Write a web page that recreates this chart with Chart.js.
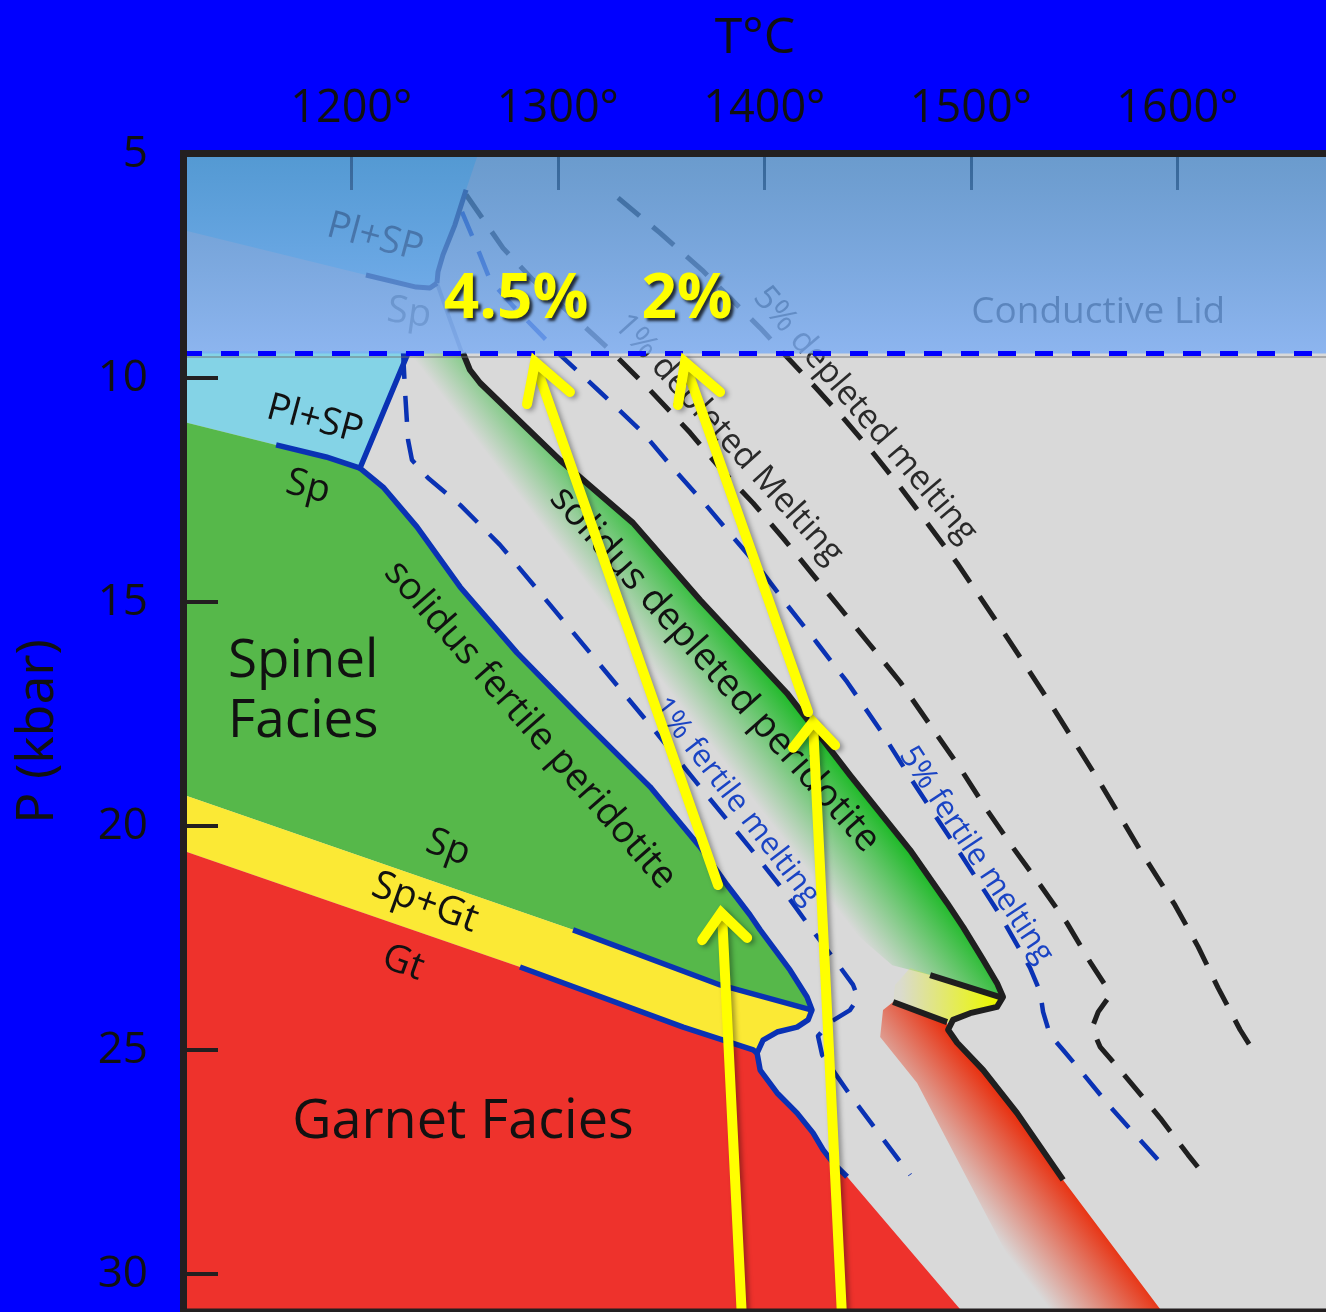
<!DOCTYPE html>
<html>
<head>
<meta charset="utf-8">
<script src="https://cdn.jsdelivr.net/npm/chart.js@4.4.1/dist/chart.umd.min.js"></script>
<style>
  html, body { margin: 0; padding: 0; background: #0000ff; overflow: hidden; }
  canvas { display: block; }
</style>
</head>
<body>
<canvas id="pt" width="1326" height="1312"></canvas>
<script>
// ---- axes (temperature in °C, pressure in kbar) ----
const tempTicks = [1200, 1300, 1400, 1500, 1600];
const pressureTicks = [5, 10, 15, 20, 25, 30];
const tempRange = [1119, 1672];
const pressureRange = [5, 30.77];
const lidBase = 9.45;

// ---- phase boundaries, [T, P] ----
const fertileSolidus = [
  [1227.5, 9.44], [1204.2, 12.01], [1215.4, 12.43], [1231.8, 13.32], [1252.7, 14.66],
  [1280.3, 16.13], [1312.2, 17.63], [1344.7, 19.12], [1368.9, 20.46], [1382.0, 21.31],
  [1393.1, 21.98], [1398.0, 22.31], [1412.5, 23.21], [1420.7, 23.81], [1423.1, 24.10],
  [1421.2, 24.32], [1415.9, 24.48], [1406.2, 24.59], [1399.4, 24.77], [1396.5, 25.06],
  [1398.0, 25.44], [1406.2, 25.95], [1415.9, 26.40], [1423.6, 26.84], [1428.5, 27.22],
  [1433.3, 27.51], [1440.1, 27.82]
];
const plSpBoundary = [[1119, 10.98], [1163.6, 11.49], [1187.8, 11.76], [1204.2, 12.01]];
const spToSpGt = [[1119, 19.30], [1307.4, 22.31], [1378.6, 23.54], [1423.1, 24.10]];
const spGtToGt = [[1119, 20.55], [1281.7, 23.14], [1360.7, 24.48], [1394.6, 24.99], [1396.5, 25.06]];
const garnetBase = [[1499.0, 31.0], [1119, 31.0]];

const depletedSolidus = [
  [1254.1, 9.44], [1257.5, 9.82], [1262.4, 10.11], [1301.1, 11.83], [1336.4, 13.23],
  [1368.9, 14.95], [1411.0, 17.03], [1441.5, 18.86], [1470.6, 20.53], [1488.5, 21.71],
  [1496.3, 22.25], [1506.0, 22.98], [1512.7, 23.50], [1515.6, 23.81], [1512.7, 24.03],
  [1499.7, 24.17], [1491.4, 24.32], [1489.0, 24.54], [1493.4, 24.83], [1506.0, 25.44],
  [1522.4, 26.40], [1544.7, 27.89]
];
const depletedSpGt = [[1480.3, 23.32], [1514.2, 23.81]];
const depletedGt = [[1462.4, 23.92], [1488.5, 24.37]];

// shaded bands beside the depleted solidus
const depletedSpinelBand = [
  ...depletedSolidus.slice(0, 14),
  [1480.3, 23.32], [1462.0, 23.10], [1368.9, 19.41], [1281.7, 14.95], [1233.3, 11.83], [1226.0, 9.44]
];
const depletedSpGtBand = [
  [1470.6, 23.16], [1480.3, 23.32], [1514.2, 23.81], [1515.6, 23.85], [1512.7, 24.03],
  [1499.7, 24.17], [1491.4, 24.32], [1488.5, 24.37], [1462.4, 23.92], [1463.3, 23.54]
];
const depletedGarnetBand = [
  [1462.4, 23.92], [1488.5, 24.37], [1489.0, 24.54], [1493.4, 24.83], [1506.0, 25.44],
  [1522.4, 26.40], [1544.7, 27.89], [1595.4, 31.0], [1534.0, 31.0], [1474.0, 25.73],
  [1456.1, 24.70], [1457.5, 24.10]
];

// isopleths of melting
const fertileMelt1 = [
  [1225.1, 9.44], [1226.0, 10.27], [1227.5, 11.38], [1229.4, 11.83], [1237.2, 12.23],
  [1252.7, 12.83], [1272.0, 13.72], [1296.3, 15.06], [1320.5, 16.40], [1344.7, 17.74],
  [1368.9, 19.12], [1393.1, 20.48], [1409.1, 21.42], [1420.7, 22.16], [1435.2, 23.05],
  [1443.0, 23.54], [1445.4, 23.83], [1441.5, 24.10], [1431.9, 24.37], [1426.0, 24.68],
  [1428.0, 25.10], [1441.5, 25.99], [1456.1, 26.89], [1470.6, 27.78]
];
const fertileMelt5 = [
  [1253.6, 6.29], [1261.4, 7.14], [1267.2, 7.81], [1279.3, 8.44], [1292.9, 9.08],
  [1301.1, 9.48], [1320.5, 10.31], [1341.3, 11.22], [1355.8, 12.01], [1370.4, 12.76],
  [1384.9, 13.55], [1396.5, 14.17], [1411.0, 15.06], [1425.6, 15.91], [1440.1, 16.78],
  [1456.1, 17.85], [1473.0, 19.08], [1493.8, 20.53], [1514.2, 21.98], [1528.7, 23.16],
  [1533.6, 23.70], [1535.0, 24.14], [1538.4, 24.66], [1544.7, 24.99], [1552.9, 25.44],
  [1567.5, 26.26], [1582.0, 27.00], [1594.1, 27.62]
];
const depletedMelt1 = [
  [1255.6, 5.91], [1273.5, 7.10], [1288.0, 7.81], [1308.4, 8.66], [1326.8, 9.44],
  [1344.7, 10.27], [1364.1, 11.22], [1378.6, 12.01], [1394.6, 12.79], [1409.1, 13.57],
  [1423.6, 14.39], [1436.7, 15.13], [1451.2, 15.95], [1465.8, 16.78], [1480.3, 17.74],
  [1494.8, 18.70], [1507.9, 19.64], [1520.5, 20.48], [1533.6, 21.31], [1546.6, 22.16],
  [1557.8, 23.03], [1565.0, 23.54], [1566.5, 23.83], [1561.7, 24.14], [1558.7, 24.50],
  [1562.6, 24.92], [1577.1, 25.70], [1591.7, 26.51], [1605.2, 27.33], [1614.9, 27.89]
];
const depletedMelt5 = [
  [1329.2, 5.98], [1349.5, 6.76], [1369.9, 7.59], [1383.4, 8.21], [1398.0, 8.88],
  [1411.0, 9.53], [1424.6, 10.20], [1438.2, 10.89], [1452.7, 11.67], [1465.8, 12.43],
  [1480.3, 13.32], [1493.4, 14.13], [1514.2, 15.55], [1538.4, 17.25], [1562.6, 19.03],
  [1582.0, 20.53], [1598.9, 21.76], [1610.1, 22.69], [1619.8, 23.61], [1630.4, 24.54],
  [1638.7, 25.15]
];

// shallow section (within the conductive lid)
const lidPlagioclaseField = [
  [1119, 5], [1261.4, 5], [1255.6, 5.80], [1250.2, 6.58], [1244.4, 7.25], [1242.0, 7.63],
  [1241.5, 7.88], [1238.1, 7.99], [1231.4, 7.97], [1207.1, 7.70], [1119, 6.70]
];
const lidSolidus = [[1255.6, 5.80], [1250.2, 6.58], [1244.4, 7.25], [1242.0, 7.63], [1241.5, 7.88]];
const lidPlSp = [[1207.1, 7.70], [1231.4, 7.97], [1238.1, 7.99], [1241.5, 7.88]];
const lidSolidusLower = [[1241.5, 7.88], [1247.8, 8.70], [1253.6, 9.44]];
const lidBox = [[1100, 4.5], [1700, 4.5], [1700, lidBase], [1100, lidBase]];
const lidEdge = [[1119, lidBase], [1680, lidBase]];
const lidShade = [[1119, 9.53], [1680, 9.53]];

// upwelling paths (4.5 % and 2 % melting)
const path45Deep = [[1389.2, 31.0], [1379.6, 22.02]];
const path45DeepHead = [[1369.9, 22.54], [1379.1, 21.93], [1391.7, 22.49]];
const path45Shallow = [[1377.6, 21.31], [1289.2, 9.70]];
const path45ShallowHead = [[1285.1, 10.58], [1289.0, 9.64], [1305.9, 10.31]];
const path2Deep = [[1437.7, 31.0], [1423.6, 17.72]];
const path2DeepHead = [[1413.9, 18.25], [1423.6, 17.67], [1434.3, 18.19]];
const path2Shallow = [[1421.2, 17.45], [1361.8, 9.70]];
const path2ShallowHead = [[1358.2, 10.60], [1361.6, 9.64], [1378.6, 10.31]];

// ---- text placed in the diagram ----
const fieldLabels = [
  {text: 'Pl+SP', T: 1211.5, P: 6.87, angle: 15, size: 38, color: '#141414'},
  {text: 'Sp', T: 1228.0, P: 8.55, angle: 8, size: 38, color: '#666666'},
  {text: 'Conductive Lid', T: 1561.7, P: 8.53, angle: 0, size: 37, color: '#101010'},
  {text: 'Pl+SP', T: 1182.4, P: 10.93, angle: 15, size: 38},
  {text: 'Sp', T: 1179.1, P: 12.43, angle: 14, size: 38},
  {text: 'Spinel', T: 1140.3, P: 16.33, angle: 0, size: 53, align: 'left'},
  {text: 'Facies', T: 1140.3, P: 17.67, angle: 0, size: 53, align: 'left'},
  {text: 'Sp', T: 1246.9, P: 20.48, angle: 20, size: 38},
  {text: 'Sp+Gt', T: 1235.7, P: 21.71, angle: 20, size: 39},
  {text: 'Gt', T: 1225.1, P: 23.05, angle: 20, size: 38},
  {text: 'Garnet Facies', T: 1254.1, P: 26.62, angle: 0, size: 54},
  {text: 'solidus fertile peridotite', T: 1286.6, P: 17.74, angle: 48.8, size: 38},
  {text: 'solidus depleted peridotite', T: 1376.0, P: 16.50, angle: 48.3, size: 38},
  {text: '1% fertile melting', T: 1386.3, P: 19.44, angle: 52.2, size: 31, color: '#1a44c4'},
  {text: '5% fertile melting', T: 1502.6, P: 20.64, angle: 56.3, size: 31, color: '#1a44c4'},
  {text: '1% depleted Melting', T: 1382.5, P: 11.36, angle: 47.9, size: 34, color: '#2a2a2a'},
  {text: '5% depleted melting', T: 1448.8, P: 10.82, angle: 49.5, size: 34, color: '#2a2a2a'}
];
const meltLabels = [
  {text: '4.5%', T: 1279.8, P: 8.26},
  {text: '2%', T: 1362.6, P: 8.26}
];

// ---- colours ----
const BLUE_LINE = '#0a32b4';
const BLACK_LINE = '#1f1f1f';
const FONT = '"Open Sans", "Noto Sans", sans-serif';

// ---- dataset builders ----
const toXY = arr => arr.map(([x, y]) => ({x, y}));
const layers = [];
function area(data, fill) {
  layers.push({data: toXY(data), showLine: false, pointRadius: 0, pointHoverRadius: 0, areaFill: fill});
}
function curve(data, color, width, dash, extra) {
  layers.push(Object.assign({
    data: toXY(data), showLine: true, pointRadius: 0, pointHoverRadius: 0,
    borderColor: color, borderWidth: width, borderDash: dash || [],
    fill: false, tension: 0, borderJoinStyle: 'round', borderCapStyle: 'butt'
  }, extra || {}));
}

// facies fields
area(lidPlagioclaseField, '#86d3ee');
area([[1119, 9.40], [1228.5, 9.40], ...fertileSolidus.slice(1, 2), ...plSpBoundary.slice(0, 3).reverse()], '#84d3e6');
area([...plSpBoundary, ...fertileSolidus.slice(2, 15), ...spToSpGt.slice(0, 3).reverse()], '#56b84a');
area([...spToSpGt, ...fertileSolidus.slice(15, 20), ...spGtToGt.slice(0, 4).reverse()], '#fbe935');
area([...spGtToGt, ...fertileSolidus.slice(20), ...garnetBase], '#ee322c');
area(depletedSpinelBand, {from: [1246.8, 10.56], to: [1283.2, 9.27],
  stops: [[0, 'rgba(25,185,35,0)'], [1, 'rgba(25,185,35,1)']]});
area(depletedSpGtBand, {from: [1465.8, 23.6], to: [1511.8, 23.6],
  stops: [[0, 'rgba(236,248,0,0.05)'], [1, 'rgba(236,248,0,1)']]});
area(depletedGarnetBand, {from: [1510.3, 29.12], to: [1544.7, 27.89],
  stops: [[0, 'rgba(232,52,20,0)'], [1, 'rgba(232,52,20,1)']]});

// melting isopleths
curve(fertileMelt1, BLUE_LINE, 4.5, [26, 17]);
curve(fertileMelt5, BLUE_LINE, 4.5, [26, 17]);
curve(depletedMelt1, BLACK_LINE, 5, [28, 17]);
curve(depletedMelt5, BLACK_LINE, 5, [28, 17]);

// shallow boundaries
curve(lidPlSp, '#102060', 5);
curve(lidSolidus, '#102060', 5);
curve(lidSolidusLower, 'rgba(16,32,96,0.35)', 4);

// fertile solidus and spinel/garnet transitions
curve(fertileSolidus, BLUE_LINE, 5.5);
curve(plSpBoundary.slice(1), BLUE_LINE, 5.5);
curve(spToSpGt.slice(1), BLUE_LINE, 5.5);
curve(spGtToGt.slice(1), BLUE_LINE, 5.5);

// depleted solidus
curve(depletedSolidus, BLACK_LINE, 6);
curve(depletedSpGt, BLACK_LINE, 6);
curve(depletedGt, BLACK_LINE, 6, [], {beneathLid: true});

// conductive lid
area(lidBox, {from: [1300, 5], to: [1300, lidBase],
  stops: [[0, 'rgba(64,131,200,0.72)'], [1, 'rgba(124,173,244,0.82)']]});
curve(lidShade, 'rgba(110,110,110,0.6)', 1.5);
curve(lidEdge, '#0000ff', 5, [18, 19]);

// upwelling paths
const ARROW = {glow: true, borderCapStyle: 'round', borderJoinStyle: 'miter'};
[path45Deep, path45DeepHead, path45Shallow, path45ShallowHead,
 path2Deep, path2DeepHead, path2Shallow, path2ShallowHead].forEach(p => curve(p, '#ffff00', 10, [], ARROW));

// first listed is painted first
layers.forEach((d, i) => { d.order = layers.length - i; });

// ---- helpers ----
function toPx(chart, T, P) {
  return [chart.scales.x.getPixelForValue(T), chart.scales.y.getPixelForValue(P)];
}
function resolvePaint(chart, spec) {
  if (typeof spec === 'string') return spec;
  const [x0, y0] = toPx(chart, spec.from[0], spec.from[1]);
  const [x1, y1] = toPx(chart, spec.to[0], spec.to[1]);
  const g = chart.ctx.createLinearGradient(x0, y0, x1, y1);
  spec.stops.forEach(([o, c]) => g.addColorStop(o, c));
  return g;
}
function drawLabel(chart, l, bold) {
  const ctx = chart.ctx;
  const [x, y] = toPx(chart, l.T, l.P);
  ctx.save();
  ctx.translate(x, y);
  ctx.rotate((l.angle || 0) * Math.PI / 180);
  ctx.font = (bold ? 'bold ' : '') + l.size + 'px ' + FONT;
  ctx.fillStyle = l.color || '#111111';
  ctx.textAlign = l.align || 'center';
  ctx.textBaseline = 'middle';
  ctx.fillText(l.text, 0, 0);
  ctx.restore();
}

// ---- plugins ----
const backdrop = {
  id: 'backdrop',
  beforeDraw(chart) {
    const {ctx, chartArea: a} = chart;
    ctx.save();
    ctx.fillStyle = '#0000ff';
    ctx.fillRect(0, 0, chart.width, chart.height);
    ctx.fillStyle = '#d9d9d9';
    ctx.fillRect(a.left, a.top, a.right - a.left, a.bottom - a.top);
    ctx.restore();
  }
};

const polygonFill = {
  id: 'polygonFill',
  beforeDatasetDraw(chart, args) {
    const ds = chart.data.datasets[args.index];
    if (!ds.areaFill) return;
    const {ctx, chartArea: a} = chart;
    const pts = args.meta.data;
    ctx.save();
    ctx.beginPath();
    ctx.rect(a.left, a.top, a.right - a.left, a.bottom - a.top);
    ctx.clip();
    ctx.beginPath();
    pts.forEach((p, i) => (i ? ctx.lineTo(p.x, p.y) : ctx.moveTo(p.x, p.y)));
    ctx.closePath();
    ctx.fillStyle = resolvePaint(chart, ds.areaFill);
    ctx.fill();
    ctx.restore();
  }
};

const glow = {
  id: 'glow',
  beforeDatasetDraw(chart, args) {
    if (!chart.data.datasets[args.index].glow) return;
    const ctx = chart.ctx;
    ctx.save();
    ctx.shadowColor = 'rgba(0,0,0,0.35)';
    ctx.shadowBlur = 5;
    ctx.shadowOffsetX = 3;
    ctx.shadowOffsetY = 2;
  },
  afterDatasetDraw(chart, args) {
    if (chart.data.datasets[args.index].glow) chart.ctx.restore();
  }
};

const beneathLid = {
  id: 'beneathLid',
  afterDatasetDraw(chart, args) {
    if (!chart.data.datasets[args.index].beneathLid) return;
    const {ctx, chartArea: a, scales: {x}} = chart;
    ctx.save();
    ctx.strokeStyle = '#1a1a1a';
    ctx.lineWidth = 3;
    tempTicks.forEach(t => {
      const px = Math.round(x.getPixelForValue(t)) + 0.5;
      ctx.beginPath();
      ctx.moveTo(px, a.top);
      ctx.lineTo(px, a.top + 36);
      ctx.stroke();
    });
    ctx.restore();
    fieldLabels.forEach(l => drawLabel(chart, l, false));
  }
};

const foreground = {
  id: 'foreground',
  afterDatasetsDraw(chart) {
    const {ctx, chartArea: a, scales: {y}} = chart;
    // pressure tick marks
    ctx.save();
    ctx.strokeStyle = '#231f20';
    ctx.lineWidth = 4;
    pressureTicks.slice(1).forEach(p => {
      const py = Math.round(y.getPixelForValue(p));
      ctx.beginPath();
      ctx.moveTo(a.left, py);
      ctx.lineTo(a.left + 34, py);
      ctx.stroke();
    });
    ctx.restore();
    // melt fraction labels
    ctx.save();
    ctx.shadowColor = 'rgba(0,0,0,0.75)';
    ctx.shadowBlur = 3;
    ctx.shadowOffsetX = 3;
    ctx.shadowOffsetY = 3;
    meltLabels.forEach(l => drawLabel(chart, Object.assign({size: 62, color: '#ffff00'}, l), true));
    ctx.restore();
    // frame
    ctx.save();
    ctx.strokeStyle = '#231f20';
    ctx.lineWidth = 7;
    ctx.beginPath();
    ctx.moveTo(a.left - 0.5, a.bottom + 3);
    ctx.lineTo(a.left - 0.5, a.top - 0.5);
    ctx.lineTo(chart.width + 4, a.top - 0.5);
    ctx.stroke();
    ctx.lineWidth = 4;
    ctx.beginPath();
    ctx.moveTo(a.left - 4, a.bottom + 1.5);
    ctx.lineTo(chart.width + 4, a.bottom + 1.5);
    ctx.stroke();
    ctx.restore();
  }
};

const PLOT_BOTTOM = 1309;
const chart = new Chart(document.getElementById('pt'), {
  type: 'scatter',
  data: {datasets: layers},
  options: {
    responsive: false,
    animation: false,
    devicePixelRatio: 1,
    events: [],
    layout: {autoPadding: false, padding: {left: 0, right: 0, top: 0, bottom: 1312 - PLOT_BOTTOM}},
    plugins: {legend: {display: false}, tooltip: {enabled: false}},
    scales: {
      x: {
        type: 'linear', position: 'top', min: tempRange[0], max: tempRange[1],
        afterBuildTicks: s => { s.ticks = tempTicks.map(v => ({value: v})); },
        afterFit: s => { s.height = 154; s.paddingLeft = 0; s.paddingRight = 0; },
        grid: {display: false}, border: {display: false},
        ticks: {padding: 10, color: '#111111', autoSkip: false, maxRotation: 0,
                font: {family: FONT, size: 45}, callback: v => v + '°'},
        title: {display: true, text: 'T°C', color: '#111111',
                font: {family: FONT, size: 50}, padding: {top: 9, bottom: 0}}
      },
      y: {
        type: 'linear', position: 'left', reverse: true, min: pressureRange[0], max: pressureRange[1],
        afterBuildTicks: s => { s.ticks = pressureTicks.map(v => ({value: v})); },
        afterFit: s => { s.width = 184; s.paddingTop = 0; s.paddingBottom = 0; },
        grid: {display: false}, border: {display: false},
        ticks: {padding: 28, color: '#111111', autoSkip: false,
                font: {family: FONT, size: 44}, callback: v => String(v)},
        title: {display: true, text: 'P (kbar)', color: '#111111',
                font: {family: FONT, size: 52}, padding: {top: 7, bottom: 0}}
      }
    }
  },
  plugins: [backdrop, polygonFill, glow, beneathLid, foreground]
});

// keep the plotting area anchored to the lower frame
const gap = PLOT_BOTTOM - chart.chartArea.bottom;
if (Math.abs(gap) > 0.5) {
  chart.options.layout.padding.bottom -= gap;
  chart.update();
}
</script>
</body>
</html>
